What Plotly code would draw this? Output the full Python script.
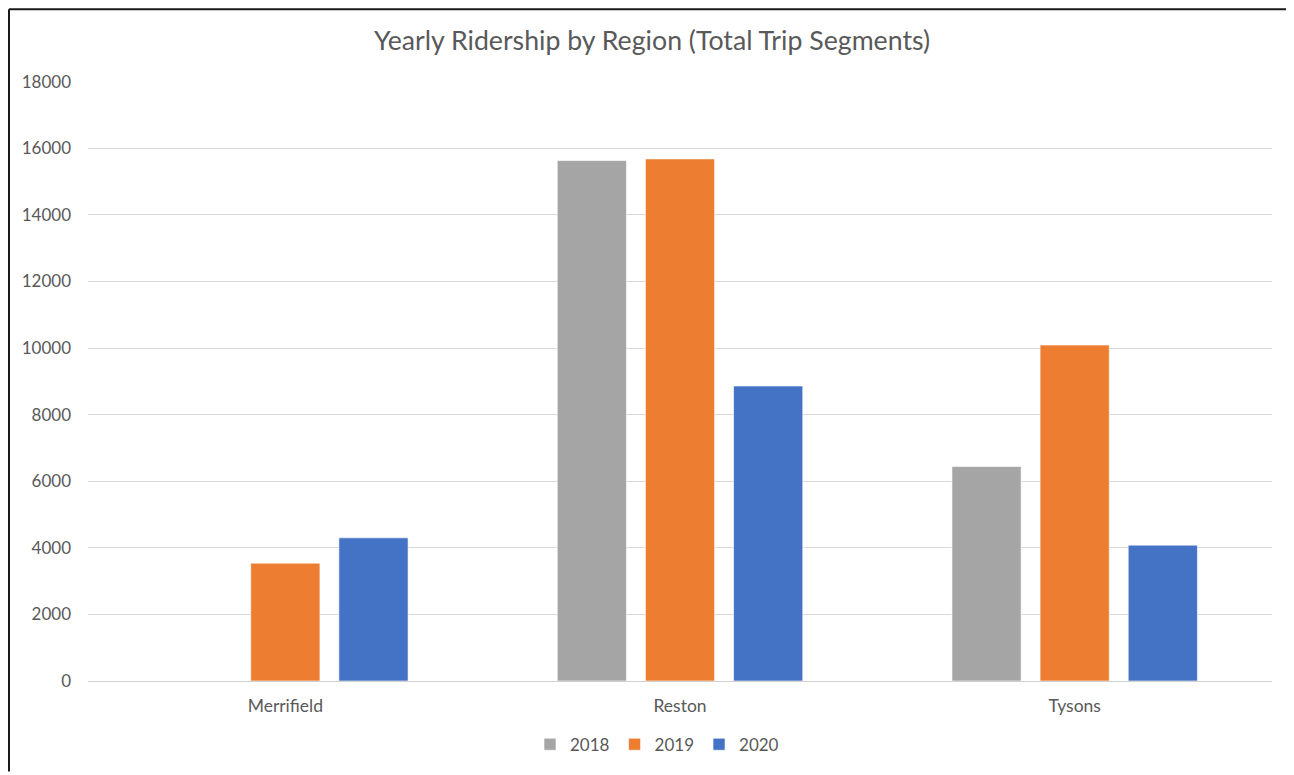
import plotly.graph_objects as go

# Data
REGIONS = ['Merrifield', 'Reston', 'Tysons']
YEARS = ['2018', '2019', '2020']
RIDES_2018 = [None, 15630, 6440]
RIDES_2019 = [3540, 15680, 10090]
RIDES_2020 = [4300, 8860, 4080]
Y_TICKS = [0, 2000, 4000, 6000, 8000, 10000, 12000, 14000, 16000, 18000]

COLORS = {'2018': '#A5A5A5', '2019': '#ED7D31', '2020': '#4472C4'}
FONT = 'Lato, Calibri, sans-serif'
TEXT_COLOR = '#595959'

# page body has an 8px margin, so the figure is sized to fill the rest of the window
W, H = 1286, 767
L, T, R, B = 80, 73, 22, 91
PW, PH = W - L - R, H - T - B

fig = go.Figure()
for year, vals in zip(YEARS, [RIDES_2018, RIDES_2019, RIDES_2020]):
    fig.add_trace(go.Bar(
        x=REGIONS, y=vals, name=year,
        marker=dict(color=COLORS[year], line=dict(color='rgba(255,255,255,0.6)', width=1)),
    ))

fig.update_layout(
    width=W, height=H,
    margin=dict(l=L, r=R, t=T, b=B),
    paper_bgcolor='white', plot_bgcolor='white',
    barmode='group', bargap=0.33, bargroupgap=0.215,
    font=dict(family=FONT, size=17, color=TEXT_COLOR),
    title=dict(
        text='Yearly Ridership by Region (Total Trip Segments)',
        x=(652 - 8) / W, xanchor='center', xref='container',
        y=1 - (41 - 8) / H, yanchor='middle', yref='container',
        font=dict(family=FONT, size=26.7, color=TEXT_COLOR),
    ),
    legend=dict(
        orientation='h', x=(657 - 8 - L) / PW, xanchor='center',
        y=-(748 - 8 - T - PH) / PH, yanchor='middle',
        font=dict(size=17, color=TEXT_COLOR), itemwidth=30, traceorder='normal',
    ),
    showlegend=True,
)

fig.update_xaxes(showline=False, ticks='', ticklabelstandoff=12,
                 tickfont=dict(size=17.5, color=TEXT_COLOR))
fig.update_yaxes(
    range=[0, 18020], tickvals=Y_TICKS, ticktext=[str(v) for v in Y_TICKS],
    showgrid=True, gridcolor='#D9D9D9', gridwidth=1,
    zeroline=True, zerolinecolor='#D0D0D0', zerolinewidth=1,
    showline=False, ticks='', ticklabelstandoff=16,
    tickfont=dict(size=17, color=TEXT_COLOR),
)

# chart frame as in the screenshot (black top/left, faint right)
def px_x(sx):
    return (sx - 8 - L) / PW

def px_y(sy):
    return (T + PH - (sy - 8)) / PH

fig.add_shape(type='line', xref='paper', yref='paper',
              x0=px_x(9), x1=px_x(1294), y0=px_y(9), y1=px_y(9),
              line=dict(color='#1A1A1A', width=2))
fig.add_shape(type='line', xref='paper', yref='paper',
              x0=px_x(9), x1=px_x(9), y0=px_y(9), y1=px_y(775),
              line=dict(color='#1A1A1A', width=2))
fig.add_shape(type='line', xref='paper', yref='paper',
              x0=px_x(1293), x1=px_x(1293), y0=px_y(9), y1=px_y(775),
              line=dict(color='#D9D9D9', width=1))

fig.write_html('out.html')
